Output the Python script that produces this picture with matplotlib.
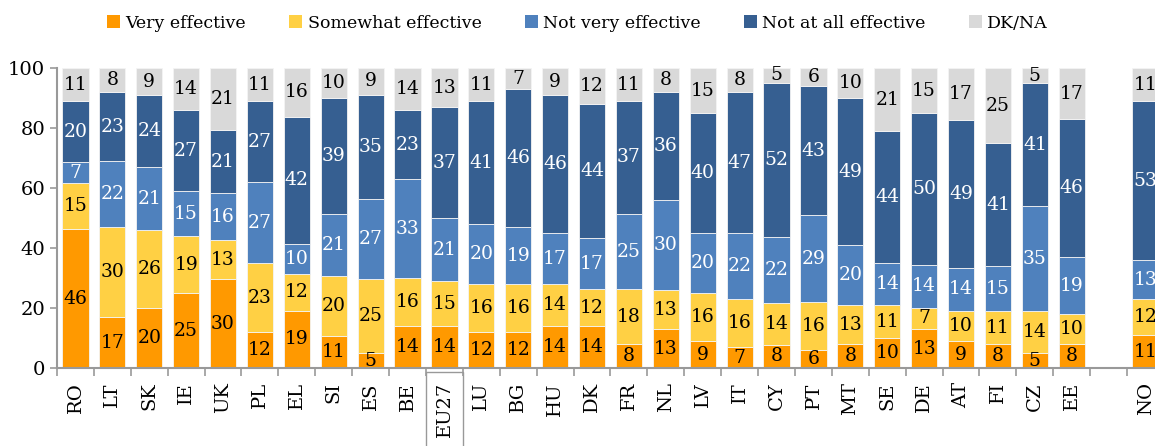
import numpy as np
import matplotlib.pyplot as plt
from matplotlib.patches import Patch

plt.rcParams['font.family'] = 'DejaVu Serif'

countries = ['RO', 'LT', 'SK', 'IE', 'UK', 'PL', 'EL', 'SI', 'ES', 'BE', 'EU27', 'LU', 'BG', 'HU',
             'DK', 'FR', 'NL', 'LV', 'IT', 'CY', 'PT', 'MT', 'SE', 'DE', 'AT', 'FI', 'CZ', 'EE', 'NO']
very = [46, 17, 20, 25, 30, 12, 19, 11, 5, 14, 14, 12, 12, 14, 14, 8, 13, 9, 7, 8, 6, 8, 10, 13, 9, 8, 5, 8, 11]
somewhat = [15, 30, 26, 19, 13, 23, 12, 20, 25, 16, 15, 16, 16, 14, 12, 18, 13, 16, 16, 14, 16, 13, 11, 7, 10, 11, 14, 10, 12]
not_very = [7, 22, 21, 15, 16, 27, 10, 21, 27, 33, 21, 20, 19, 17, 17, 25, 30, 20, 22, 22, 29, 20, 14, 14, 14, 15, 35, 19, 13]
not_at_all = [20, 23, 24, 27, 21, 27, 42, 39, 35, 23, 37, 41, 46, 46, 44, 37, 36, 40, 47, 52, 43, 49, 44, 50, 49, 41, 41, 46, 53]
dkna = [11, 8, 9, 14, 21, 11, 16, 10, 9, 14, 13, 11, 7, 9, 12, 11, 8, 15, 8, 5, 6, 10, 21, 15, 17, 25, 5, 17, 11]

series_names = ['Very effective', 'Somewhat effective', 'Not very effective', 'Not at all effective', 'DK/NA']
colors = ['#FF9900', '#FFD044', '#4F81BD', '#365F91', '#D9D9D9']
text_colors = ['black', 'black', 'white', 'white', 'black']

data = np.array([very, somewhat, not_very, not_at_all, dkna], dtype=float)
# rounded values: scale each bar so it reaches 100
shares = data / data.sum(axis=0) * 100

# one empty slot before NO
x = np.array(list(range(28)) + [29])

fig = plt.figure(figsize=(11.55, 4.46), dpi=100)
ax = fig.add_axes([57 / 1155, 77.7 / 446, 30 * 36.9 / 1155, 300.3 / 446])

bottom = np.zeros(len(countries))
for i in range(5):
    ax.bar(x, shares[i], 0.71, bottom=bottom, color=colors[i], edgecolor='#F4F4F4', linewidth=0.6)
    for xi, b, h, v in zip(x, bottom, shares[i], data[i]):
        ax.text(xi, b + h / 2, f'{int(v)}', ha='center', va='center',
                fontsize=13.5, color=text_colors[i])
    bottom += shares[i]

ax.set_xlim(-0.5, 29.5)
ax.set_ylim(0, 100)
ax.set_yticks(np.arange(0, 101, 20))
ax.tick_params(axis='y', labelsize=14, length=5, color='#999999', width=1.2)

ax.set_xticks(np.arange(-0.5, 30, 1))
ax.set_xticklabels([])
ax.tick_params(axis='x', which='major', length=6, color='#999999', width=1.2)
ax.set_xticks(x, minor=True)
ax.set_xticklabels(countries, minor=True, rotation=90, fontsize=14)
ax.tick_params(axis='x', which='minor', length=0, pad=10)

for lbl in ax.get_xticklabels(minor=True):
    if lbl.get_text() == 'EU27':
        lbl.set_bbox(dict(facecolor='none', edgecolor='#999999', boxstyle='square,pad=0.5'))

for s in ['top', 'right']:
    ax.spines[s].set_visible(False)
for s in ['left', 'bottom']:
    ax.spines[s].set_color('#999999')
    ax.spines[s].set_linewidth(1.5)

handles = [Patch(facecolor=c, edgecolor='none') for c in colors]
fig.legend(handles, series_names, loc='center', bbox_to_anchor=(0.5, 0.948), ncol=5,
           frameon=False, fontsize=12.5, handlelength=0.75, handleheight=0.75,
           handletextpad=0.3, columnspacing=2.5)

fig.savefig('out.png', dpi=100)
